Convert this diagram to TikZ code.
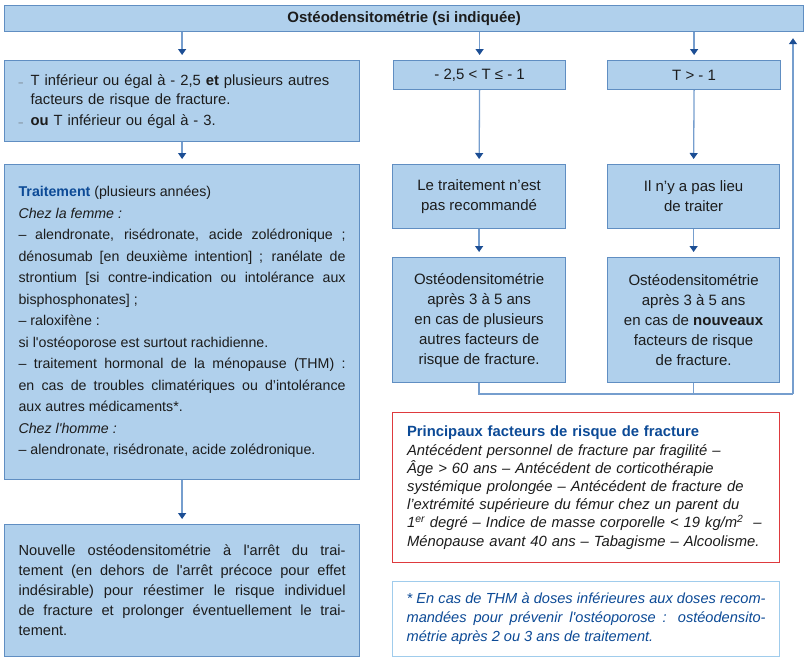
\documentclass[tikz,border=0pt]{standalone}
\usepackage{fontspec}
\newfontfamily\mainf{Liberation Sans}
\usetikzlibrary{arrows.meta}
\definecolor{boxfill}{RGB}{176,208,236}
\definecolor{boxborder}{RGB}{96,142,194}
\definecolor{connc}{RGB}{118,158,206}
\definecolor{arrowc}{RGB}{28,78,148}
\definecolor{titleblue}{RGB}{12,74,150}
\definecolor{redc}{RGB}{222,58,62}
\definecolor{footc}{RGB}{160,204,236}
\definecolor{textc}{RGB}{28,28,28}
\definecolor{dashc}{RGB}{90,90,90}
\newcommand{\fsz}[2]{\mainf\fontsize{#1}{#2}\selectfont}
\newcommand{\smdash}{\makebox[12pt][l]{{\footnotesize\color{dashc}–}}}
\tikzset{
  box/.style={draw=boxborder, fill=boxfill, line width=1.2pt, inner sep=0pt,
    font=\fsz{15}{20}, text=textc, anchor=north west, align=center},
  conn/.style={draw=connc, line width=1.3pt,
    -{Triangle[color=arrowc,length=6pt,width=8pt]}, shorten >=5pt},
  connline/.style={draw=connc, line width=1.3pt},
}
\begin{document}
\begin{tikzpicture}[x=1pt,y=-1pt]
\useasboundingbox (0,0) rectangle (807,662);
% top
\node[box, minimum width=799pt, minimum height=26pt] (top) at (4,5)
  {\textbf{Ostéodensitométrie (si indiquée)}};
% left column
\node[box, minimum width=355pt, minimum height=81pt, text width=327pt, align=left,
      font=\fsz{14.8}{19}] (b1) at (4,60)
  {\smdash T inférieur ou égal à - 2,5 \textbf{et} plusieurs autres\\
   \hspace*{12pt}facteurs de risque de fracture.\\[2pt]
   \smdash\textbf{ou} T inférieur ou égal à - 3.};
\node[box, minimum width=355pt, minimum height=315pt, text width=327pt, align=justify,
      font=\fsz{14.2}{21.5}] (b2) at (4,164)
  {{\color{titleblue}\textbf{Traitement}} (plusieurs années)\hfill\null\linebreak
   \textit{Chez la femme :}\hfill\null\linebreak
   – alendronate, risédronate, acide zolédronique ;\linebreak
   dénosumab [en deuxième intention] ; ranélate de\linebreak
   strontium [si contre-indication ou intolérance aux\linebreak
   bisphosphonates] ;\hfill\null\linebreak
   – raloxifène :\hfill\null\linebreak
   si l'ostéoporose est surtout rachidienne.\hfill\null\linebreak
   – traitement hormonal de la ménopause (THM) :\linebreak
   en cas de troubles climatériques ou d’intolérance\linebreak
   aux autres médicaments*.\hfill\null\linebreak
   \textit{Chez l'homme :}\hfill\null\linebreak
   – alendronate, risédronate, acide zolédronique.};
\node[box, minimum width=355pt, minimum height=132pt, text width=327pt, align=justify,
      font=\fsz{14.6}{20}] (b3) at (4,524)
  {Nouvelle ostéodensitométrie à l'arrêt du trai-\linebreak
   tement (en dehors de l'arrêt précoce pour effet\linebreak
   indésirable) pour réestimer le risque individuel\linebreak
   de fracture et prolonger éventuellement le trai-\linebreak
   tement.};
% middle column
\node[box, minimum width=172pt, minimum height=29pt] (m1) at (393,60) {- 2,5 < T ≤ - 1};
\node[box, minimum width=173pt, minimum height=64pt] (m2) at (392,164)
  {Le traitement n’est\\pas recommandé};
\node[box, minimum width=173pt, minimum height=125pt] (m3) at (392,257)
  {Ostéodensitométrie\\après 3 à 5 ans\\en cas de plusieurs\\autres facteurs de\\risque de fracture.};
% right column
\node[box, minimum width=173pt, minimum height=29pt] (r1) at (607,60) {T > - 1};
\node[box, minimum width=172pt, minimum height=64pt] (r2) at (607,164)
  {Il n’y a pas lieu\\de traiter};
\node[box, minimum width=172pt, minimum height=125pt] (r3) at (607,257)
  {Ostéodensitométrie\\après 3 à 5 ans\\en cas de \textbf{nouveaux}\\facteurs de risque\\de fracture.};
% risk factors
\node[draw=redc, fill=white, line width=1.2pt, inner sep=0pt, anchor=north west,
      minimum width=387pt, minimum height=150pt, text width=358pt, align=left,
      font=\fsz{14.8}{18.2}, text=textc] (rf) at (392,412)
  {{\color{titleblue}\textbf{Principaux facteurs de risque de fracture}}\\
   \textit{Antécédent personnel de fracture par fragilité –}\\
   \textit{Âge > 60 ans – Antécédent de corticothérapie}\\
   \textit{systémique prolongée – Antécédent de fracture de}\\
   \textit{l’extrémité supérieure du fémur chez un parent du}\\
   \textit{1\textsuperscript{er} degré – Indice de masse corporelle < 19 kg/m\textsuperscript{2}\ \ –}\\
   \textit{Ménopause avant 40 ans – Tabagisme – Alcoolisme.}};
% footnote
\node[draw=footc, fill=white, line width=1.2pt, inner sep=0pt, anchor=north west,
      minimum width=387pt, minimum height=75pt, text width=359pt, align=justify,
      font=\fsz{14.6}{19}\itshape, text=titleblue] (fn) at (392,581)
  {* En cas de THM à doses inférieures aux doses recom-\linebreak
   mandées pour prévenir l'ostéoporose : ostéodensito-\linebreak
   métrie après 2 ou 3 ans de traitement.};
% connectors
\draw[conn] (top.south -| b1.north) -- (b1.north);
\draw[conn] (top.south -| m1.north) -- (m1.north);
\draw[conn] (top.south -| r1.north) -- (r1.north);
\draw[conn] (b1.south) -- (b2.north);
\draw[conn] (m1.south) -- (m2.north);
\draw[conn] (r1.south) -- (r2.north);
\draw[conn] (m2.south) -- (m3.north);
\draw[conn] (r2.south) -- (r3.north);
\draw[conn] (b2.south) -- (b3.north);
\coordinate (lb) at (478.5,394);
\coordinate (rb) at (793,394);
\draw[connline] (m3.south) -- (m3.south |- lb) -- (rb);
\draw[connline] (r3.south) -- (r3.south |- rb);
\draw[conn, shorten >=6pt] (rb) -- (rb |- top.south);
\end{tikzpicture}
\end{document}
